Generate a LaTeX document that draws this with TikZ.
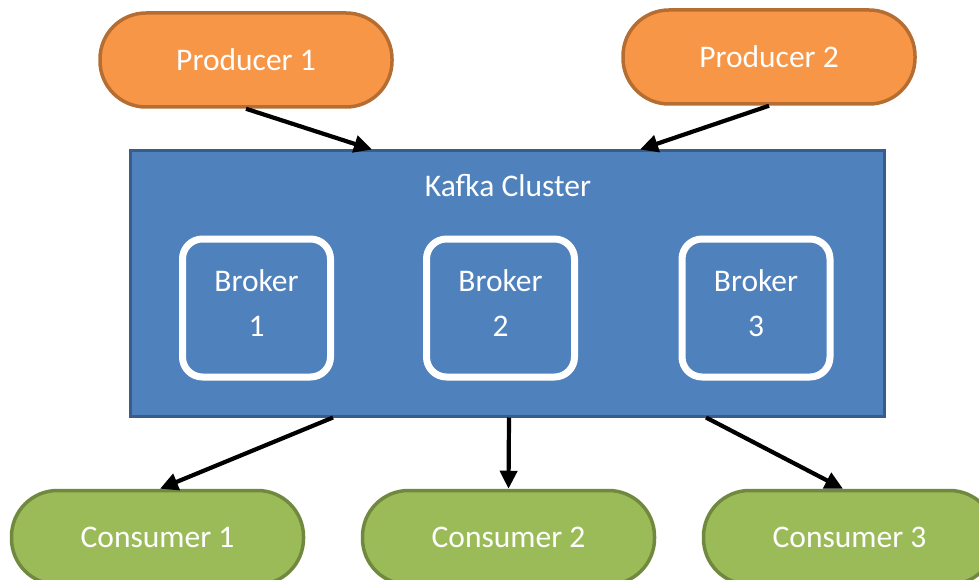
\documentclass[tikz,border=0pt]{standalone}
\usepackage{fontspec}
\setmainfont{Carlito}
\usetikzlibrary{arrows.meta,calc}
\definecolor{orfill}{HTML}{F79646}
\definecolor{ordraw}{HTML}{B66D31}
\definecolor{blfill}{HTML}{4F81BD}
\definecolor{bldraw}{HTML}{385D8A}
\definecolor{grfill}{HTML}{9BBB59}
\definecolor{grdraw}{HTML}{71893F}
\tikzset{
  pill/.style={rectangle, rounded corners=46pt, minimum width=292pt, minimum height=94pt,
    line width=3.5pt, text=white, font=\fontsize{31.5}{37}\selectfont},
  prod/.style={pill, draw=ordraw, fill=orfill},
  cons/.style={pill, draw=grdraw, fill=grfill},
  cluster/.style={rectangle, draw=bldraw, fill=blfill, line width=3pt, minimum width=754pt, minimum height=265pt},
  broker/.style={rectangle, rounded corners=20pt, draw=white, line width=7pt, minimum width=148pt, minimum height=138pt},
  blabel/.style={text=white, align=center, font=\fontsize{31.5}{45}\selectfont},
  label/.style={text=white, font=\fontsize{31.5}{37}\selectfont},
  flow/.style={line width=4.2pt, -{Triangle[length=18pt,width=17pt]}}
}
\begin{document}
\begin{tikzpicture}[x=1pt,y=-1pt]
\useasboundingbox (0,0) rectangle (979,580);
\clip (0,0) rectangle (979,580);
\node[prod] (p1) at (246,60) {Producer 1};
\node[prod] (p2) at (769,57) {Producer 2};
\node[cluster] (k) at (507,283.5) {};
\node[label] (kl) at (508,186) {Kafka Cluster};
\node[broker] (b1) at (256.5,308) {};
\node[broker] (b2) at (500.5,308) {};
\node[broker] (b3) at (756,308) {};
\node[blabel] (b1t) at (b1) [yshift=4.5pt] {Broker\\1};
\node[blabel] (b2t) at (b2) [yshift=4.5pt] {Broker\\2};
\node[blabel] (b3t) at (b3) [yshift=4.5pt] {Broker\\3};
\node[cons] (c1) at (157.5,537.5) {Consumer 1};
\node[cons] (c2) at (508.5,537.5) {Consumer 2};
\node[cons] (c3) at (849.5,537.5) {Consumer 3};
\draw[flow] (p1.south) -- ([xshift=-135pt]k.north);
\draw[flow] (p2.south) -- ([xshift=133pt]k.north);
\draw[flow] ([xshift=-174pt]k.south) -- ([xshift=2.5pt]c1.north);
\draw[flow] ([xshift=2pt]k.south) -- (c2.north);
\draw[flow] ([xshift=199pt]k.south) -- ([xshift=-6.5pt]c3.north);
\end{tikzpicture}
\end{document}
